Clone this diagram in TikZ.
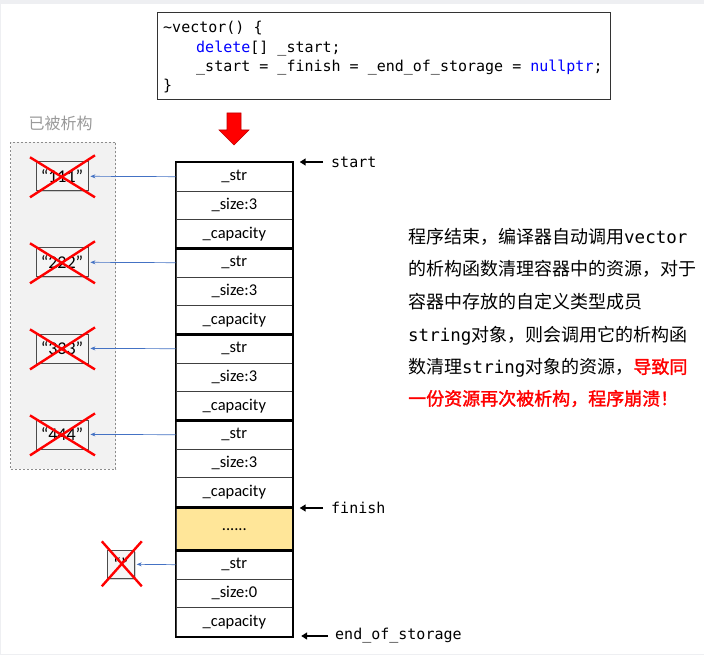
\documentclass[tikz,border=0pt]{standalone}
\usepackage{fontspec}
\setmainfont{Carlito}
\setmonofont{DejaVu Sans Mono}
\newfontfamily\cjk{Noto Sans CJK SC}
\newfontfamily\cjkb[FakeBold=1.6]{Noto Sans CJK SC}
\usetikzlibrary{arrows.meta,shadows}
\definecolor{bgband}{HTML}{EEEFF2}
\definecolor{panelgray}{HTML}{F2F2F2}
\definecolor{linkblue}{HTML}{4472C4}
\definecolor{dotyellow}{HTML}{FFE699}
\definecolor{kwblue}{HTML}{0000FF}
\newcommand\monotxt[1]{{\ttfamily\fontsize{17.5}{20}\selectfont #1}}
\begin{document}
\begin{tikzpicture}[x=1pt,y=-1pt,
  cell/.style={draw=black!75, line width=0.7pt, minimum width=117pt, minimum height=28.67pt, inner sep=0pt, anchor=north west, font=\fontsize{16.5}{18}\selectfont},
  grp/.style={draw=black, line width=1.6pt},
  strbox/.style={draw=black!70, line width=0.8pt, fill=black!4, minimum width=52pt, minimum height=29pt, inner sep=0pt, font=\fontsize{18}{20}\selectfont, drop shadow={shadow xshift=1.2pt, shadow yshift=-1.2pt, opacity=0.35}},
  crossx/.style={draw=red, line width=2.4pt},
  link/.style={draw=linkblue, line width=0.7pt, -{Stealth[length=5pt,width=4pt]}, shorten >=2pt},
  ptr/.style={font=\ttfamily\fontsize{15}{17}\selectfont, inner sep=0pt, anchor=west},
  ptrarr/.style={draw=black, line width=2pt, -{Triangle[length=6pt,width=7pt]}},
  code/.style={font=\ttfamily\fontsize{15}{17}\selectfont, inner sep=0pt, anchor=base west},
  para/.style={font=\cjk\fontsize{18}{20}\selectfont, inner sep=0pt, anchor=base west},
]
\useasboundingbox (0,0) rectangle (704,655);
\fill[bgband] (0,0) rectangle (704,655);
\fill[white] (1,4) rectangle (704,653.5);

% code box
\node[draw=black!80, line width=1pt, minimum width=453pt, minimum height=87pt, inner sep=0pt] (code) at (383.5,56.5) {};
\node[code] (l1) at (163,33) {\textasciitilde vector() \{};
\node[code] (l2) at (196,52.3) {{\color{kwblue}delete}[] \_start;};
\node[code] (l3) at (196,71.6) {\_start = \_finish = \_end\_of\_storage = {\color{kwblue}nullptr};};
\node[code] (l4) at (163,90.9) {\}};

% red arrow
\draw[fill=red, draw=red!75!black, line width=0.6pt] (227,113) -- (241,113) -- (241,130) -- (249,130) -- (234,145) -- (219,130) -- (227,130) -- cycle;

% destroyed panel
\node[font=\cjk\fontsize{16}{18}\selectfont, text=black!40, inner sep=0pt] (lab) at (60.5,123) {已被析构};
\draw[draw=black!45, fill=panelgray, line width=0.7pt, dash pattern=on 2pt off 2pt] (10.5,142) rectangle (115.5,469);

% vector cells
\foreach \i/\t in {1/{\_str},2/{\_size:3},3/{\_capacity},4/{\_str},5/{\_size:3},6/{\_capacity},7/{\_str},8/{\_size:3},9/{\_capacity},10/{\_str},11/{\_size:3},12/{\_capacity}}{
  \node[cell] (c\i) at (175.5,{162+(\i-1)*28.67}) {\t};
}
\node[cell, fill=dotyellow, minimum height=42pt] (dots) at (175.5,508) {......};
\foreach \i/\t in {13/{\_str},14/{\_size:0},15/{\_capacity}}{
  \node[cell] (c\i) at (175.5,{550+(\i-13)*28.67}) {\t};
}
\draw[grp] (c1.north west) rectangle (c3.south east);
\draw[grp] (c4.north west) rectangle (c6.south east);
\draw[grp] (c7.north west) rectangle (c9.south east);
\draw[grp] (c10.north west) rectangle (c12.south east);
\draw[grp] (dots.north west) rectangle (dots.south east);
\draw[grp] (c13.north west) rectangle (c15.south east);

% string boxes
\node[strbox] (s1) at (62,176.3) {“111”};
\node[strbox] (s2) at (62,262.3) {“222”};
\node[strbox] (s3) at (62,348.4) {“333”};
\node[strbox] (s4) at (62,434.4) {“444”};
\node[strbox, minimum width=27pt, minimum height=28pt] (s5) at (120.8,564.3) {“”};

\foreach \s in {s1,s2,s3,s4}{
  \draw[crossx] ([shift={(-32,-19)}]\s.center) -- ([shift={(33,21)}]\s.center);
  \draw[crossx] ([shift={(33,-21)}]\s.center) -- ([shift={(-32,21)}]\s.center);
}
\draw[crossx] ([shift={(-19,-23)}]s5.center) -- ([shift={(21,22)}]s5.center);
\draw[crossx] ([shift={(21,-23)}]s5.center) -- ([shift={(-19,22)}]s5.center);

\draw[link] (c1.west) -- (s1.east);
\draw[link] (c4.west) -- (s2.east);
\draw[link] (c7.west) -- (s3.east);
\draw[link] (c10.west) -- (s4.east);
\draw[link] (c13.west) -- (s5.east);

% pointers
\node[ptr] (pstart) at (331,162) {start};
\node[ptr] (pfinish) at (331,508) {finish};
\node[ptr] (pend) at (335,636) {end\_of\_storage};
\draw[ptrarr, shorten <=8pt, shorten >=6.5pt] (pstart.west) -- (pstart.west -| c1.east);
\draw[ptrarr, shorten <=8pt, shorten >=6.5pt] (pfinish.west) -- (pfinish.west -| c12.east);
\draw[ptrarr, shorten <=7pt, shorten >=8pt] (pend.west) -- (pend.west -| c15.east);

% explanation
\node[para] (t1) at (408,243.5) {程序结束，编译器自动调用\monotxt{vector}};
\node[para] (t2) at (408,275.8) {的析构函数清理容器中的资源，对于};
\node[para] (t3) at (408,308.8) {容器中存放的自定义类型成员};
\node[para] (t4) at (408,341.6) {\monotxt{string}对象，则会调用它的析构函};
\node[para] (t5) at (408,373.5) {数清理\monotxt{string}对象的资源，{\cjkb\color{red}导致同}};
\node[para] (t6) at (408,405.2) {{\cjkb\color{red}一份资源再次被析构，程序崩溃！}};
\end{tikzpicture}
\end{document}
